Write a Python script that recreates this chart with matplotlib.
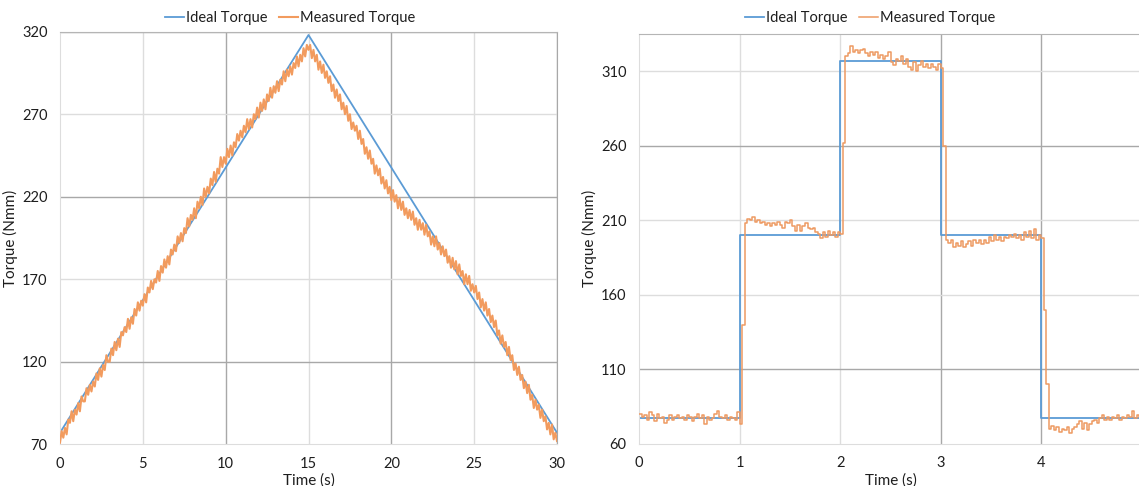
import numpy as np
import matplotlib
matplotlib.use("Agg")
import matplotlib.pyplot as plt

plt.rcParams['font.family'] = ['Lato', 'DejaVu Sans']

# ---- left chart: triangle torque profile (0-30 s) ----
ramp_time = [0, 15, 30]
ramp_ideal = [77, 318, 77]

ramp_measured = [
    71, 78, 74, 80, 76, 85, 83, 90, 84, 91,
    88, 95, 90, 99, 96, 96, 104, 100, 106, 102,
    108, 105, 113, 109, 116, 111, 118, 115, 124, 120,
    120, 128, 124, 132, 127, 134, 129, 138, 136, 141,
    138, 146, 140, 147, 143, 152, 148, 156, 151, 157,
    154, 161, 156, 165, 162, 169, 164, 170, 168, 175,
    169, 178, 174, 182, 177, 184, 179, 188, 185, 191,
    187, 196, 192, 198, 193, 201, 198, 207, 202, 209,
    206, 213, 207, 217, 213, 220, 215, 225, 220, 226,
    222, 231, 227, 235, 229, 237, 234, 244, 238, 244,
    240, 249, 244, 251, 245, 253, 250, 258, 254, 260,
    256, 263, 259, 267, 261, 267, 262, 270, 267, 274,
    268, 277, 272, 279, 273, 282, 278, 286, 280, 287,
    283, 290, 284, 291, 288, 296, 290, 297, 293, 299,
    294, 301, 298, 305, 299, 306, 302, 310, 305, 312,
    309, 312, 304, 309, 302, 306, 297, 302, 295, 300,
    292, 296, 289, 293, 284, 288, 280, 285, 278, 282,
    273, 277, 270, 275, 266, 270, 261, 265, 260, 263,
    255, 260, 252, 255, 246, 250, 243, 248, 240, 243,
    234, 239, 233, 237, 228, 232, 225, 230, 222, 226,
    218, 224, 217, 221, 213, 219, 212, 217, 209, 213,
    207, 212, 206, 211, 203, 207, 200, 206, 200, 204,
    197, 203, 196, 199, 191, 196, 190, 196, 188, 192,
    185, 190, 184, 188, 180, 184, 177, 183, 176, 181,
    173, 179, 172, 175, 167, 173, 167, 172, 163, 167,
    162, 166, 158, 162, 153, 158, 151, 156, 148, 152,
    144, 148, 141, 145, 136, 139, 131, 136, 129, 132,
    124, 129, 121, 124, 115, 119, 112, 117, 109, 112,
    104, 108, 101, 106, 97, 100, 92, 97, 91, 94,
    86, 91, 84, 87, 79, 83, 76, 82, 73, 77,
    72,
]

# ---- right chart: step torque profile (0-5 s) ----
step_time = [0, 1, 2, 3, 4, 5]
step_ideal = [77, 200, 317, 200, 77, 77]

# measured torque, sampled every 0.025 s
step_measured = [
    80, 78, 79, 76, 81, 79, 75, 80, 77, 78,
    74, 76, 79, 76, 78, 79, 77, 78, 76, 79,
    78, 75, 78, 80, 77, 79, 73, 78, 76, 77,
    80, 82, 78, 77, 79, 76, 78, 77, 76, 81,
    73, 140, 208,
    211, 210, 212, 209, 210, 208, 209, 207,
    208, 206, 208, 207, 209, 207, 205, 209, 208, 210, 206, 203,
    207, 203, 206, 208, 205, 204, 205, 202, 201, 198, 202, 199, 203, 200, 202, 199, 202,
    201, 262, 320, 322, 327, 323, 324, 322, 324, 325,
    322, 320, 323, 321, 323, 319, 321, 318, 320, 323,
    316, 314, 318, 317, 320, 315, 318, 313, 311, 316,
    310, 314, 317, 313, 315, 312, 315, 313, 311, 315,
    312, 260, 197, 195, 197, 192, 195, 193, 196, 192,
    194, 196, 193, 197, 195, 197, 194, 197, 195, 199,
    196, 200, 197, 199, 196, 199, 198, 200, 199, 201,
    198, 200, 197, 202, 199, 203, 198, 204, 197, 200,
    198, 150, 100, 70, 72, 69, 71, 68, 70, 69,
    71, 67, 70, 71, 73, 75, 70, 74, 69, 73,
    75, 76, 74, 77, 79, 76, 78, 76, 78, 77,
    79, 76, 78, 77, 79, 78, 82, 77, 79, 78,
    78,
]

left_xticks = [0, 5, 10, 15, 20, 25, 30]
left_yticks = [70, 120, 170, 220, 270, 320]
right_xticks = [0, 1, 2, 3, 4]
right_yticks = [60, 110, 160, 210, 260, 310]

BLUE = '#5B9BD5'
ORANGE = '#F29B5E'
LIGHT = '#DDDDDD'
DARK = '#A8A8A8'
TEXT = '#1E1E1E'

fig = plt.figure(figsize=(11.39, 4.86), dpi=100)
W, H = 1139, 486
axL = fig.add_axes([60 / W, 1 - 444.3 / H, 497 / W, 412.6 / H])
axR = fig.add_axes([639 / W, 1 - 443.7 / H, 503 / W, 409.7 / H])


def style(ax, xticks, yticks, dark_x, dark_y):
    for x in xticks[1:]:
        ax.axvline(x, color=DARK if x in dark_x else LIGHT, lw=1, zorder=0)
    for y in yticks[1:]:
        ax.axhline(y, color=DARK if y in dark_y else LIGHT, lw=1, zorder=0)
    ax.set_xticks(xticks)
    ax.set_yticks(yticks)
    ax.tick_params(length=0, pad=9, labelsize=10.5, colors=TEXT)
    for s in ['left', 'bottom']:
        ax.spines[s].set_color(LIGHT)
    ax.spines['top'].set_color('#B5B5B5')
    ax.spines['right'].set_color(DARK)
    ax.set_xlabel('Time (s)', fontsize=11, color=TEXT, labelpad=2)
    ax.set_ylabel('Torque (Nmm)', fontsize=11, color=TEXT, labelpad=3)


# left
tL = np.linspace(0, 30, len(ramp_measured))
axL.plot(ramp_time, ramp_ideal, color=BLUE, lw=1.3, label='Ideal Torque', zorder=2)
axL.plot(tL, ramp_measured, color=ORANGE, lw=1.5, label='Measured Torque', zorder=3)
axL.set_xlim(0, 30)
axL.set_ylim(70, 320)
style(axL, left_xticks, left_yticks, (10, 20, 30), (120, 220, 320))

# right
tR = np.linspace(0, 5, len(step_measured))
axR.plot(step_time, step_ideal, color=BLUE, lw=1.3, drawstyle='steps-post',
         label='Ideal Torque', zorder=2)
axR.plot(tR, step_measured, color='#EE9A62', lw=1.1, drawstyle='steps-post',
         label='Measured Torque', zorder=3)
axR.set_xlim(0, 5)
axR.set_ylim(60, 335)
style(axR, right_xticks, right_yticks, (3, 4), (110, 260))
axR.spines['right'].set_visible(False)

for ax, cx in [(axL, 290 / W), (axR, 870 / W)]:
    ax.legend(loc='center', bbox_to_anchor=(cx, 1 - 18 / H), bbox_transform=fig.transFigure,
              ncol=2, frameon=False, fontsize=10.5, handlelength=1.3, handletextpad=0.15,
              columnspacing=0.8, labelcolor=TEXT)

fig.savefig('out.png', dpi=100)
